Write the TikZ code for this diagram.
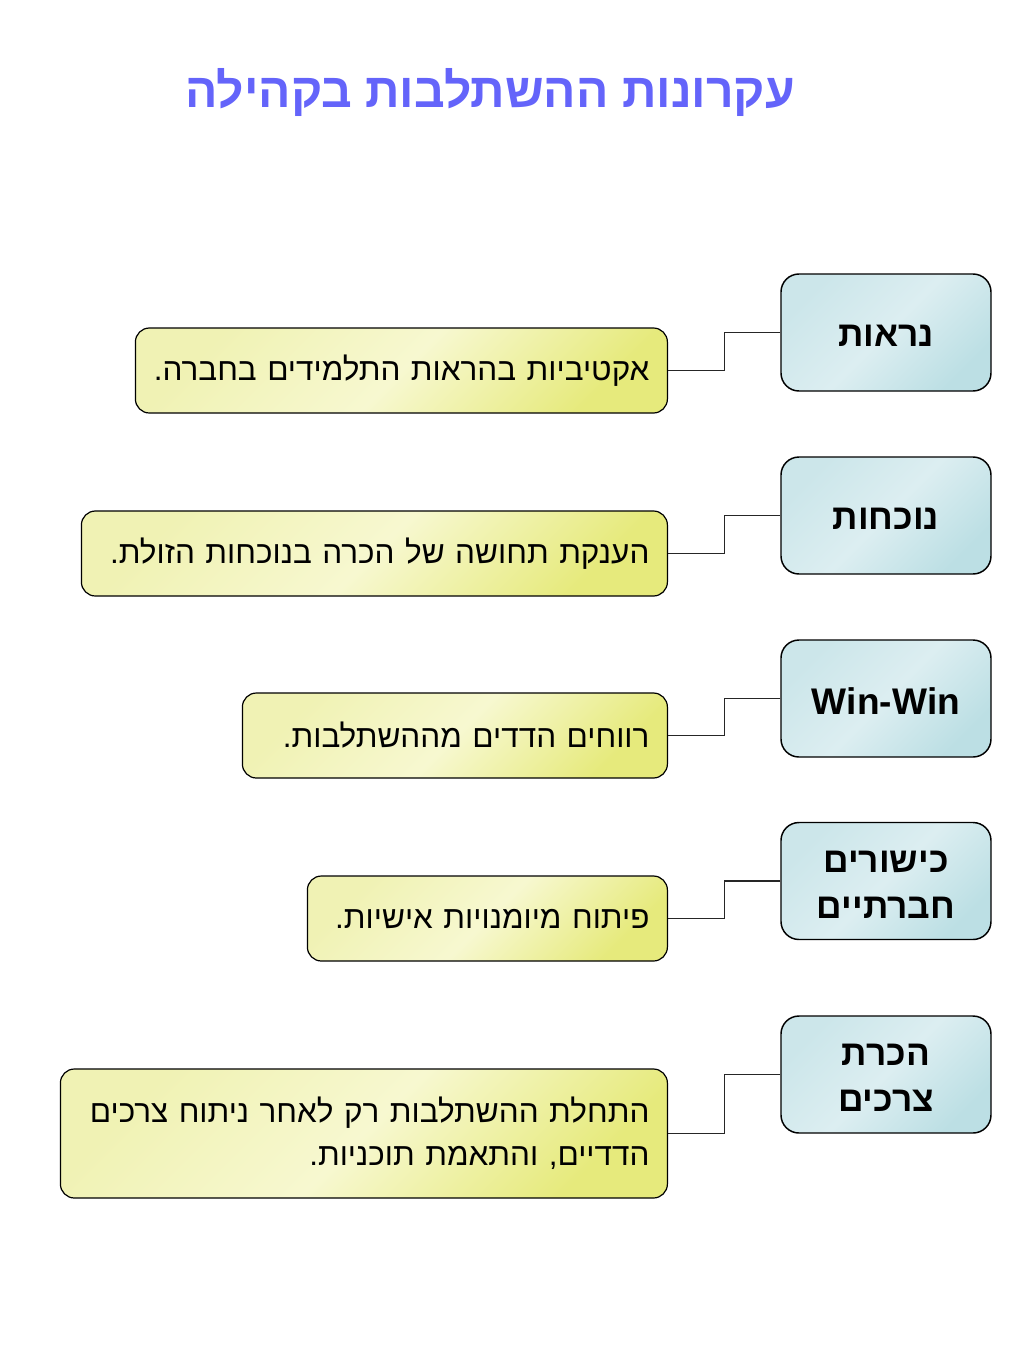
\documentclass[tikz,border=0pt]{standalone}
\usepackage{fontspec}
\setmainfont[Script=Hebrew]{Liberation Sans}
\TeXXeTstate=1
\usetikzlibrary{positioning}
\definecolor{titleblue}{HTML}{6464FA}
\definecolor{ylight}{HTML}{F7F8D0}
\definecolor{yedge}{HTML}{F0F2B4}
\definecolor{ydark}{HTML}{E6EA7C}
\definecolor{blight}{HTML}{DCEEF1}
\definecolor{bedge}{HTML}{CCE6EA}
\definecolor{bdark}{HTML}{BCDFE4}
\newcommand{\hb}[1]{\raisebox{-2.5pt}[\height][\depth]{\beginR #1\endR}}
\tikzset{
  headbox/.style={draw=black, line width=1.1pt, rounded corners=13.5pt,
    top color=bedge, bottom color=bdark, middle color=blight, shading angle=45,
    minimum width=157.5pt, minimum height=87.75pt, align=center,
    font=\fontsize{26.5pt}{34.5pt}\selectfont\bfseries, inner sep=0pt},
  descbox/.style={draw=black, line width=0.9pt, rounded corners=10.5pt,
    top color=yedge, bottom color=ydark, middle color=ylight, shading angle=45,
    minimum height=63.75pt, align=right, inner xsep=13.5pt, inner ysep=0pt,
    font=\fontsize{23.6pt}{32.3pt}\selectfont},
  link/.style={draw=black!85, line width=0.9pt}
}
\begin{document}
\begin{tikzpicture}[x=0.75pt,y=-0.75pt]
\useasboundingbox (0,0) rectangle (1024,1365);
\node[text=titleblue, font=\fontsize{36pt}{42pt}\selectfont\bfseries] (title) at (490,92) {\beginR עקרונות ההשתלבות בקהילה\endR};

% right head boxes
\node[headbox] (h1) at (886,332.5) {\hb{נראות}};
\node[headbox] (h2) at (886,515.5) {\hb{נוכחות}};
\node[headbox, font=\fontsize{27.8pt}{34.5pt}\selectfont\bfseries] (h3) at (886,698.5) {\raisebox{-2pt}[\height][\depth]{Win-Win}};
\node[headbox] (h4) at (886,881) {\hb{כישורים}\\\hb{חברתיים}};
\node[headbox] (h5) at (886,1074.5) {\hb{הכרת}\\\hb{צרכים}};

% left description boxes (right edge at x=668)
\node[descbox, text width={(532-36)*0.75pt}, anchor=east] (d1) at (668,370.5) {\beginR אקטיביות בהראות התלמידים בחברה.\endR};
\node[descbox, text width={(586-36)*0.75pt}, anchor=east] (d2) at (668,553.5) {\beginR הענקת תחושה של הכרה בנוכחות הזולת.\endR};
\node[descbox, text width={(425-36)*0.75pt}, anchor=east] (d3) at (668,735.5) {\beginR רווחים הדדים מההשתלבות.\endR};
\node[descbox, text width={(360-36)*0.75pt}, anchor=east] (d4) at (668,918.5) {\beginR פיתוח מיומנויות אישיות.\endR};
\node[descbox, text width={(607-36)*0.75pt}, minimum height=96.75pt, anchor=east] (d5) at (668,1133.5) {\beginR התחלת ההשתלבות רק לאחר ניתוח צרכים\endR\\\beginR הדדיים, והתאמת תוכניות.\endR};

% connectors
\foreach \i in {1,...,5}{
  \draw[link] (h\i.west) -- ++(-56,0) |- (d\i.east);
}
\end{tikzpicture}
\end{document}
